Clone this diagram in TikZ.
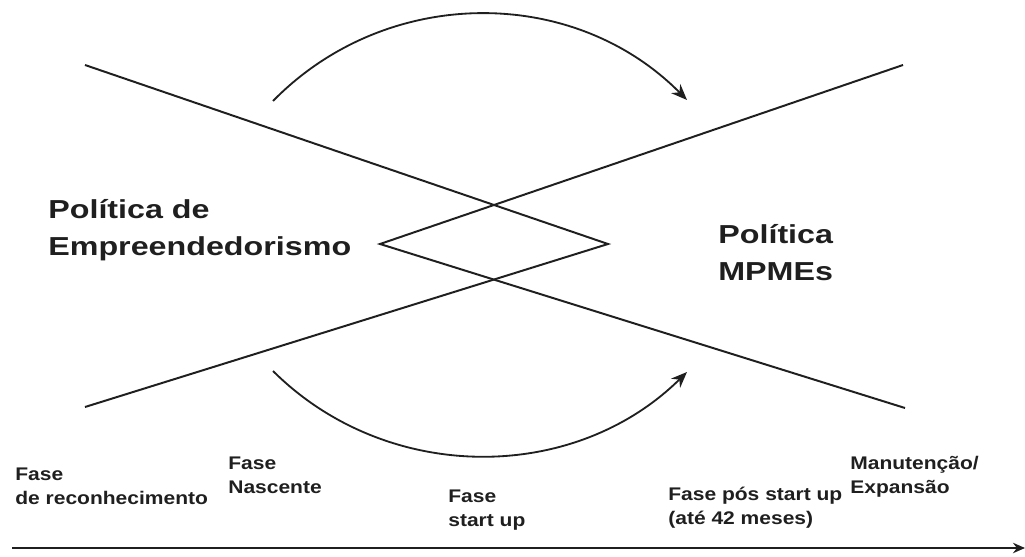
\documentclass[tikz,border=0pt]{standalone}
\usepackage{fontspec}
\setmainfont{Liberation Sans}
\usetikzlibrary{arrows.meta}
\definecolor{ink}{rgb}{0.12,0.12,0.12}

\begin{document}
\begin{tikzpicture}[scale=1,
		bigtxt/.style={anchor=base west, align=left, inner sep=0pt, xscale=1.24, text=ink,
			font=\fontsize{18.5}{26}\selectfont\bfseries},
		phase/.style={anchor=base west, align=left, inner sep=0pt, xscale=1.15, text=ink,
			font=\fontsize{13}{17}\selectfont\bfseries},
		cross/.style={ink, line width=1.4pt},
		turn/.style={ink, line width=1.3pt, -{Stealth[length=4mm,width=3.2mm]}}]

		\useasboundingbox (0,0) rectangle (25.625,13.9);

		% the two bent lines meeting in the middle
		\coordinate (tl) at (2.125,12.275);
		\coordinate (tr) at (22.575,12.275);
		\coordinate (bl) at (2.125,3.725);
		\coordinate (br) at (22.625,3.7);
		\coordinate (lv) at (9.5,7.8);
		\coordinate (rv) at (15.2,7.8);
		\draw [cross] (tl) -- (rv) -- (bl);
		\draw [cross] (tr) -- (lv) -- (br);

		% curved arrows
		\coordinate (up1) at (6.825,11.375);
		\coordinate (up2) at (17.175,11.4);
		\coordinate (lo1) at (6.825,4.625);
		\coordinate (lo2) at (17.175,4.6);
		\draw [turn] (up1) .. controls (9.665,14.27) and (14.335,14.27) .. (up2);
		\draw [turn] (lo1) .. controls (9.665,1.8) and (14.335,1.8) .. (lo2);

		\node [bigtxt] (empr) at (1.2,7.525) {Política de\\Empreendedorismo};
		\node [bigtxt] (mpme) at (17.95,6.9) {Política\\MPMEs};

		% phases along the time axis
		\node [phase] (recon) at (0.375,1.3) {Fase\\de reconhecimento};
		\node [phase] (nasc) at (5.7,1.575) {Fase\\Nascente};
		\node [phase] (start) at (11.2,0.75) {Fase\\start up};
		\node [phase] (pos) at (16.7,0.8) {Fase pós start up\\(até 42 meses)};
		\node [phase] (manut) at (21.25,1.575) {Manutenção/\\Expansão};

		\coordinate (ax0) at (0.3,0.2);
		\coordinate (ax1) at (25.625,0.2);
		\draw [ink, line width=1.2pt][-{Stealth[length=3mm,width=2.6mm]}] (ax0) -- (ax1);
	\end{tikzpicture}
\end{document}
